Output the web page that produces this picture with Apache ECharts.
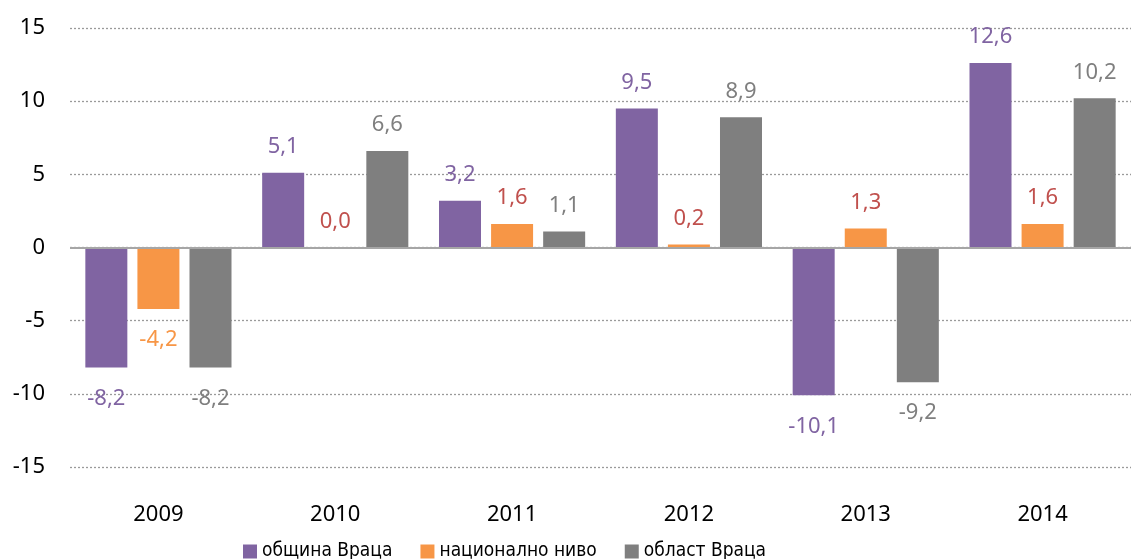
<!DOCTYPE html>
<html>
<head>
<meta charset="utf-8">
<script src="https://cdn.jsdelivr.net/npm/echarts@6/dist/echarts.min.js"></script>
<style>
  html, body { margin: 0; padding: 0; background: #fff; }
  #chart { width: 1131px; height: 559px; }
</style>
</head>
<body>
<div id="chart"></div>
<script>
// данни
var years = ['2009', '2010', '2011', '2012', '2013', '2014'];
var obshtina = [-8.2, 5.1, 3.2, 9.5, -10.1, 12.6];
var nacionalno = [-4.2, 0.0, 1.6, 0.2, 1.3, 1.6];
var oblast = [-8.2, 6.6, 1.1, 8.9, -9.2, 10.2];
var yTicks = [-15, -10, -5, 0, 5, 10, 15];

var FONT = '"Noto Sans", "DejaVu Sans", sans-serif';

var fmt = function (v) {
    return v.toFixed(1).replace('.', ',');
};

// етикет над / под колоната според знака
var withLabels = function (arr, color, negColor) {
    return arr.map(function (v) {
        return {
            value: v,
            label: {
                position: v < 0 ? 'bottom' : 'top',
                distance: v < 0 ? 20 : 15,
                color: v < 0 && negColor ? negColor : color
            }
        };
    });
};

var chart = echarts.init(document.getElementById('chart'));

var labelBase = {
    show: true,
    fontSize: 22,
    fontFamily: FONT,
    formatter: function (p) { return fmt(p.value); }
};

chart.setOption({
    animation: false,
    grid: {
        left: 70,
        right: -3,
        top: 28,
        bottom: 92
    },
    legend: {
        top: 537,
        left: 238,
        icon: 'rect',
        itemWidth: 14,
        itemHeight: 14,
        itemGap: 28,
        itemStyle: { borderWidth: 0 },
        textStyle: {
            fontSize: 19,
            fontFamily: '"DejaVu Sans Condensed", sans-serif',
            color: '#000'
        },
        data: ['община Враца', 'национално ниво', 'област Враца']
    },
    xAxis: {
        type: 'category',
        data: years,
        axisLine: { show: false, onZero: false },
        axisTick: { show: false },
        axisLabel: {
            margin: 37,
            fontSize: 22,
            fontFamily: FONT,
            color: '#000'
        }
    },
    yAxis: {
        type: 'value',
        min: yTicks[0],
        max: yTicks[yTicks.length - 1],
        interval: 5,
        axisLine: { show: false },
        axisTick: { show: false },
        axisLabel: {
            margin: 25,
            fontSize: 22,
            fontFamily: FONT,
            color: '#000'
        },
        splitLine: {
            lineStyle: { color: '#9a9a9a', type: [2, 2], width: 1.3 }
        }
    },
    series: [
        {
            name: 'община Враца',
            type: 'bar',
            barWidth: 42,
            barGap: '24%',
            itemStyle: { color: '#8064a2' },
            label: labelBase,
            data: withLabels(obshtina, '#8064a2'),
            markLine: {
                silent: true,
                symbol: 'none',
                label: { show: false },
                lineStyle: { color: '#a6a6a6', type: 'solid', width: 2 },
                data: [{ yAxis: 0 }]
            }
        },
        {
            name: 'национално ниво',
            type: 'bar',
            barWidth: 42,
            barGap: '24%',
            itemStyle: { color: '#f79646' },
            label: labelBase,
            data: withLabels(nacionalno, '#c0504d', '#f79646')
        },
        {
            name: 'област Враца',
            type: 'bar',
            barWidth: 42,
            barGap: '24%',
            itemStyle: { color: '#7f7f7f' },
            label: labelBase,
            data: withLabels(oblast, '#7f7f7f')
        }
    ]
});

window.addEventListener('resize', function () { chart.resize(); });
</script>
</body>
</html>
